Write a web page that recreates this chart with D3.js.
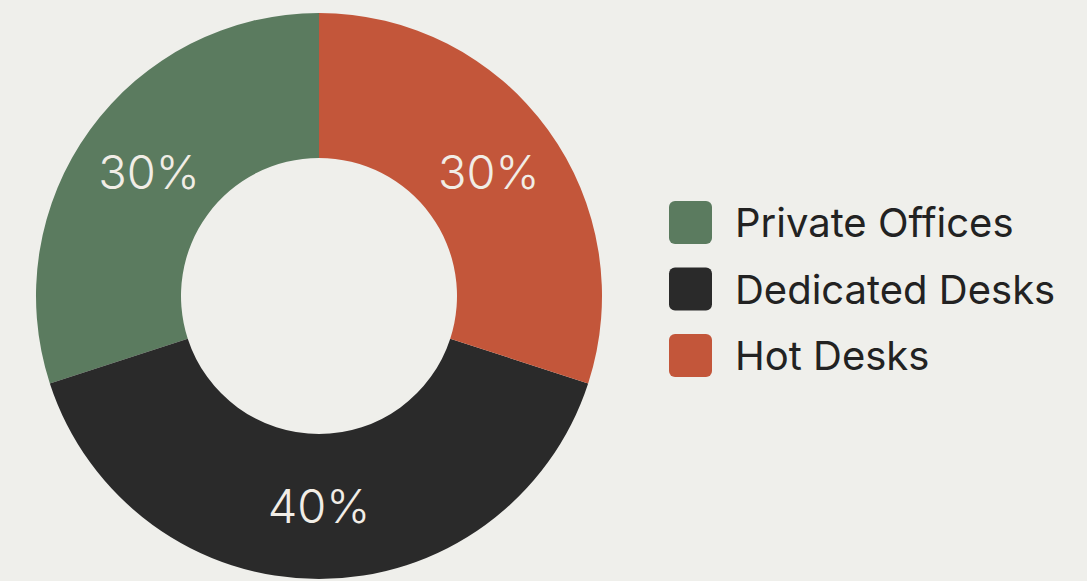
<!DOCTYPE html>
<html>
<head>
<meta charset="utf-8">
<script src="https://cdn.jsdelivr.net/npm/d3@7"></script>
<style>
  html, body { margin: 0; padding: 0; background: #efefeb; }
  svg { display: block; }
</style>
</head>
<body>
<svg id="chart" width="1087" height="581"></svg>
<script>
// Data
const categories = ["Private Offices", "Dedicated Desks", "Hot Desks"];
const shares = [30, 40, 30];
const shareLabels = ["30%", "40%", "30%"];
const colors = ["#5b7b5f", "#2a2a2a", "#c3563a"];

const W = 1087, H = 581;
const cx = 319, cy = 296;
const outerR = 283, innerR = 138, labelR = 210;

const svg = d3.select("#chart");
svg.append("rect").attr("width", W).attr("height", H).attr("fill", "#efefeb");

const data = categories.map((c, i) => ({ name: c, value: shares[i], label: shareLabels[i], color: colors[i] }));

// Order clockwise from top: Hot Desks, Dedicated Desks, Private Offices
const order = ["Hot Desks", "Dedicated Desks", "Private Offices"];
const pie = d3.pie()
  .value(d => d.value)
  .sort((a, b) => order.indexOf(a.name) - order.indexOf(b.name));

const arcs = pie(data);
const arc = d3.arc().innerRadius(innerR).outerRadius(outerR);
const labelArc = d3.arc().innerRadius(labelR).outerRadius(labelR);

const g = svg.append("g").attr("transform", `translate(${cx},${cy})`);

g.selectAll("path.slice")
  .data(arcs)
  .enter().append("path")
  .attr("class", "slice")
  .attr("d", arc)
  .attr("fill", d => d.data.color);

g.selectAll("text.pct")
  .data(arcs)
  .enter().append("text")
  .attr("class", "pct")
  .attr("transform", d => `translate(${labelArc.centroid(d)})`)
  .attr("text-anchor", "middle")
  .attr("dy", "0.36em")
  .attr("fill", "#f1ede6")
  .style("font-family", "Inter, 'Noto Sans', sans-serif")
  .style("font-size", "47px")
  .style("font-weight", 300)
  .text(d => d.data.label);

// Legend
const legend = svg.append("g").attr("transform", "translate(669,201)");
const ly = d3.scalePoint().domain(categories).range([0, 133]);

const items = legend.selectAll("g.item")
  .data(data)
  .enter().append("g")
  .attr("class", "item")
  .attr("transform", d => `translate(0,${ly(d.name)})`);

items.append("rect")
  .attr("width", 43).attr("height", 43)
  .attr("rx", 6).attr("ry", 6)
  .attr("fill", d => d.color);

items.append("text")
  .attr("x", 66)
  .attr("y", 22)
  .attr("dy", "0.36em")
  .attr("fill", "#222222")
  .style("font-family", "Inter, 'Noto Sans', sans-serif")
  .style("font-size", "40px")
  .style("font-weight", 400)
  .text(d => d.name);
</script>
</body>
</html>
